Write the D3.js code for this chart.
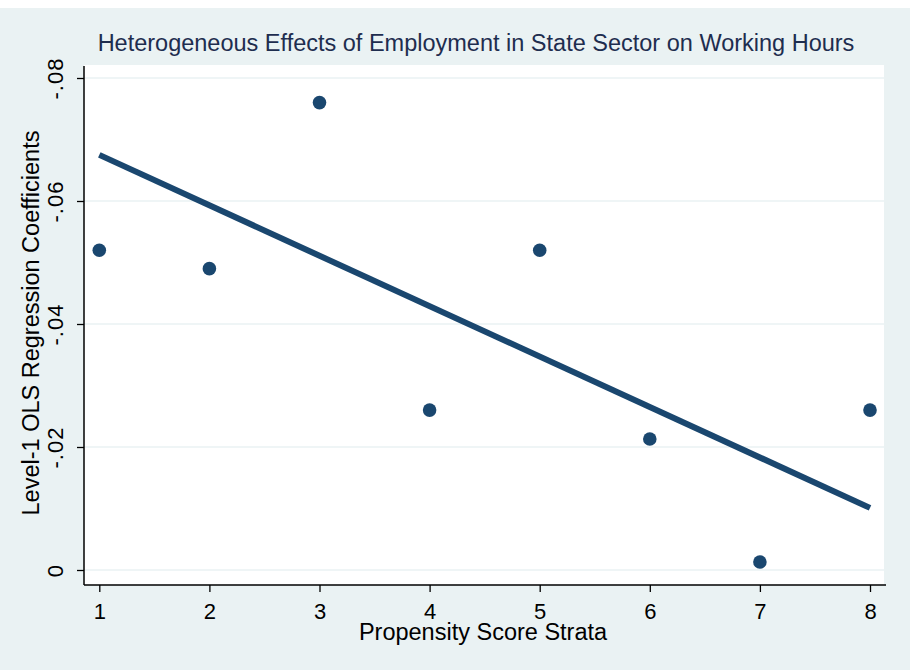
<!DOCTYPE html>
<html>
<head>
<meta charset="utf-8">
<script src="https://cdn.jsdelivr.net/npm/d3@7"></script>
<style>
  body { margin: 0; background: #fff; }
  text { font-family: 'Liberation Sans', Arial, sans-serif; }
</style>
</head>
<body>
<div id="chart"></div>
<script>
// data
var strata = [1, 2, 3, 4, 5, 6, 7, 8]
var coefs = [-0.052, -0.049, -0.076, -0.026, -0.052, -0.0213, -0.0013, -0.026]
var fitX = [1, 8]
var fitY = [-0.0675, -0.0101]
var yTicks = [0, -0.02, -0.04, -0.06, -0.08]
var yTickLabels = ['0', '-.02', '-.04', '-.06', '-.08']
var xTicks = [1, 2, 3, 4, 5, 6, 7, 8]

var width = 910, height = 670
var navy = '#1a476f'

var svg = d3.select('#chart').append('svg')
    .attr('width', width)
    .attr('height', height)

// outer background
svg.append('rect')
    .attr('x', 0).attr('y', 8)
    .attr('width', width).attr('height', height - 8)
    .attr('fill', '#eaf2f3')

var plot = {left: 84, right: 884, top: 65, bottom: 585}

svg.append('rect')
    .attr('x', plot.left).attr('y', plot.top)
    .attr('width', plot.right - plot.left).attr('height', plot.bottom - plot.top)
    .attr('fill', '#fff')

var x = d3.scaleLinear().domain([1, 8]).range([99.3, 870])
var y = d3.scaleLinear().domain([0, -0.08]).range([570, 78])

// gridlines
svg.append('g').selectAll('line')
  .data(yTicks)
  .enter().append('line')
    .attr('x1', plot.left).attr('x2', plot.right)
    .attr('y1', function(d) { return y(d) })
    .attr('y2', function(d) { return y(d) })
    .attr('stroke', '#eaf2f3')
    .attr('stroke-width', 1.5)

// y axis
var gy = svg.append('g')
    .attr('transform', 'translate(' + plot.left + ',0)')
    .call(d3.axisLeft(y).tickValues(yTicks).tickSize(7).tickFormat(function(d, i) { return yTickLabels[i] }))
gy.select('.domain').remove()
gy.selectAll('.tick line').attr('stroke', '#000').attr('stroke-width', 1.3)
gy.selectAll('.tick text')
    .attr('transform', 'rotate(-90)')
    .attr('x', 0).attr('y', -21)
    .attr('dy', 0)
    .attr('text-anchor', 'middle')
    .style('font-size', '22px')
    .style('letter-spacing', '1px')
    .attr('fill', '#000')
svg.append('line')
    .attr('x1', plot.left).attr('x2', plot.left)
    .attr('y1', plot.top + 1).attr('y2', plot.bottom)
    .attr('stroke', '#000').attr('stroke-width', 1.5)

// x axis
var gx = svg.append('g')
    .attr('transform', 'translate(0,' + plot.bottom + ')')
    .call(d3.axisBottom(x).tickValues(xTicks).tickSize(7).tickFormat(d3.format('d')))
gx.select('.domain').remove()
gx.selectAll('.tick line').attr('stroke', '#000').attr('stroke-width', 1.3)
gx.selectAll('.tick text')
    .attr('y', 34)
    .attr('dy', 0)
    .style('font-size', '22px')
    .attr('fill', '#000')
svg.append('line')
    .attr('x1', plot.left).attr('x2', plot.right + 2)
    .attr('y1', plot.bottom).attr('y2', plot.bottom)
    .attr('stroke', '#000').attr('stroke-width', 1.5)

// fitted line
var line = d3.line()
    .x(function(d) { return x(d[0]) })
    .y(function(d) { return y(d[1]) })
svg.append('path')
    .datum(d3.zip(fitX, fitY))
    .attr('d', line)
    .attr('fill', 'none')
    .attr('stroke', navy)
    .attr('stroke-width', 6)

// points
svg.append('g').selectAll('circle')
  .data(d3.zip(strata, coefs))
  .enter().append('circle')
    .attr('cx', function(d) { return x(d[0]) })
    .attr('cy', function(d) { return y(d[1]) })
    .attr('r', 6.8)
    .attr('fill', navy)

// titles
svg.append('text')
    .attr('x', 476).attr('y', 51)
    .attr('text-anchor', 'middle')
    .style('font-size', '23.5px')
    .attr('fill', '#1e2d4f')
    .text('Heterogeneous Effects of Employment in State Sector on Working Hours')

svg.append('text')
    .attr('x', 483).attr('y', 640)
    .attr('text-anchor', 'middle')
    .style('font-size', '23.5px')
    .attr('fill', '#000')
    .text('Propensity Score Strata')

svg.append('text')
    .attr('transform', 'translate(39,323) rotate(-90)')
    .attr('text-anchor', 'middle')
    .style('font-size', '23.5px')
    .attr('fill', '#000')
    .text('Level-1 OLS Regression Coefficients')
</script>
</body>
</html>
